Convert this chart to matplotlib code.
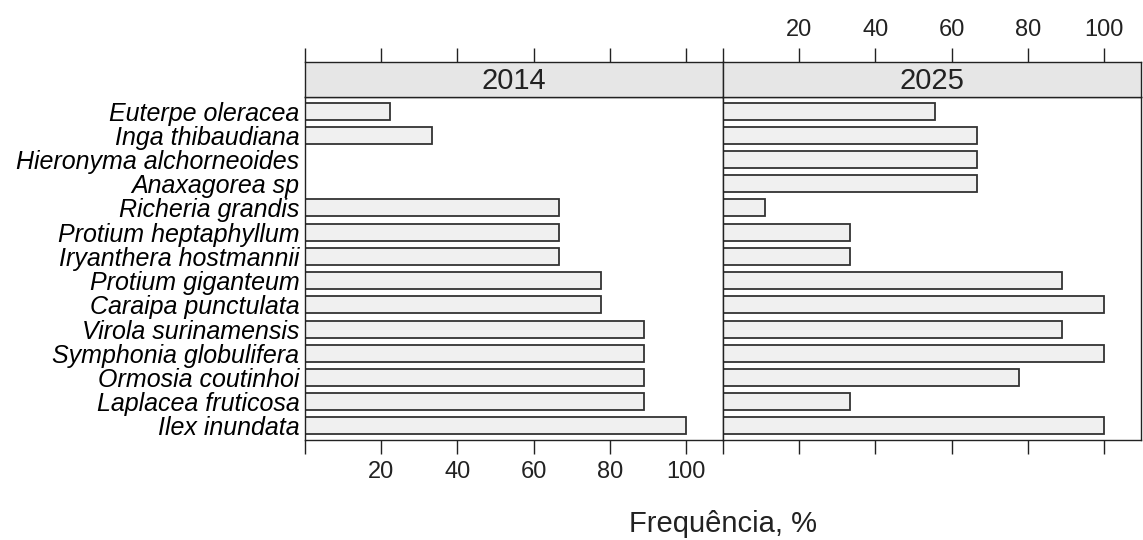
import numpy as np
import matplotlib.pyplot as plt

plt.rcParams['font.family'] = ['Liberation Sans', 'DejaVu Sans']

# Data
species = ['Euterpe oleracea', 'Inga thibaudiana', 'Hieronyma alchorneoides',
           'Anaxagorea sp', 'Richeria grandis', 'Protium heptaphyllum',
           'Iryanthera hostmannii', 'Protium giganteum', 'Caraipa punctulata',
           'Virola surinamensis', 'Symphonia globulifera', 'Ormosia coutinhoi',
           'Laplacea fruticosa', 'Ilex inundata']
freq_2014 = [22.2, 33.3, 0, 0, 66.7, 66.7, 66.7, 77.8, 77.8, 88.9, 88.9, 88.9, 88.9, 100]
freq_2025 = [55.6, 66.7, 66.7, 66.7, 11.1, 33.3, 33.3, 88.9, 100, 88.9, 100, 77.8, 33.3, 100]
years = ['2014', '2025']
ticks = [0, 20, 40, 60, 80, 100]
tick_labels = ['', '20', '40', '60', '80', '100']

W, H = 1143, 540
fig = plt.figure(figsize=(W / 100, H / 100), dpi=100)


def px(x0, y0, x1, y1):
    return [x0 / W, 1 - y1 / H, (x1 - x0) / W, (y1 - y0) / H]


edges = [(305, 723), (723, 1141)]
y_pos = np.arange(1, len(species) + 1)
edge_col = '#333333'

for i, (vals, yr) in enumerate(zip([freq_2014, freq_2025], years)):
    x0, x1 = edges[i]
    ax = fig.add_axes(px(x0, 97, x1, 440))
    ax.barh(y_pos, vals, height=0.7, color='#f0f0f0', edgecolor=edge_col, linewidth=1.3)
    ax.set_xlim(0, 109.7)
    ax.set_ylim(len(species) + 0.58, 0.42)
    ax.set_xticks(ticks)
    ax.tick_params(axis='x', direction='out', length=10, width=1, colors='#222222',
                   labelsize=17, pad=5)
    if i == 0:
        ax.set_xticklabels(tick_labels)
        ax.set_yticks(y_pos)
        ax.set_yticklabels(species, style='italic', fontsize=18)
        ax.tick_params(axis='y', length=0, pad=4)
    else:
        ax.set_xticklabels([''] * len(ticks))
        ax.set_yticks([])
    for s in ax.spines.values():
        s.set_color('#222222')
        s.set_linewidth(1)

    # strip
    sax = fig.add_axes(px(x0, 62, x1, 97))
    sax.set_facecolor('#e6e6e6')
    sax.set_xlim(0, 109.7)
    sax.set_ylim(0, 1)
    sax.set_yticks([])
    sax.xaxis.tick_top()
    sax.set_xticks(ticks)
    sax.tick_params(axis='x', direction='out', length=10, width=1, colors='#222222',
                    labelsize=17, pad=5)
    sax.set_xticklabels(tick_labels if i == 1 else [''] * len(ticks))
    sax.text(0.5, 0.47, yr, transform=sax.transAxes, ha='center', va='center',
             fontsize=21, color='#222222')
    for s in sax.spines.values():
        s.set_color('#222222')
        s.set_linewidth(1)

fig.text(723 / W, 1 - 524 / H, 'Frequência, %', ha='center', va='center', fontsize=21,
         color='#222222')

fig.savefig('out.png', dpi=100)
